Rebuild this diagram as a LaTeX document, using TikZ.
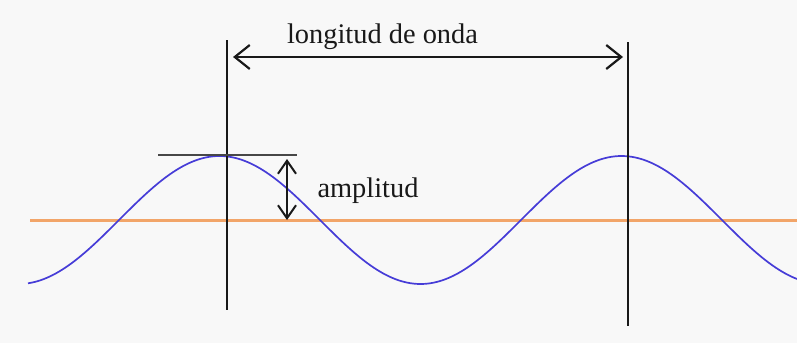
\documentclass[tikz,border=0pt]{standalone}
\usepackage{fontspec}
\setmainfont{Liberation Serif}
\usetikzlibrary{arrows.meta}
\definecolor{bgc}{RGB}{248,248,248}
\definecolor{wave}{RGB}{70,60,215}
\definecolor{axisc}{RGB}{242,165,105}
\definecolor{inkc}{RGB}{25,25,25}
\tikzset{
  guide/.style={draw=inkc, line width=2.2pt},
  dimarrow/.style={draw=inkc, line width=2.2pt, {Straight Barb[length=15pt,width=24pt]}-{Straight Barb[length=15pt,width=24pt]}},
  amparrow/.style={draw=inkc, line width=2pt, {Straight Barb[length=13pt,width=18pt]}-{Straight Barb[length=13pt,width=18pt]}},
  lbl/.style={inner sep=0pt, anchor=base, text=inkc, font=\fontsize{28.4}{30}\selectfont},
}
\begin{document}
\begin{tikzpicture}[x=1pt,y=-1pt]
\fill[bgc] (0,0) rectangle (797,343);
\useasboundingbox (0,0) rectangle (797,343);
% baseline (orange)
\coordinate (axL) at (30,220);
\coordinate (axR) at (797,220);
\draw[axisc, line width=3pt] (axL) -- (axR);
% wave
\draw[wave, line width=1.7pt, smooth] plot[domain=28:797, samples=160] (\x, {220-64*sin(0.89552*(\x-119))});
% vertical guides
\coordinate (v1t) at (227,40);
\coordinate (v1b) at (227,310);
\coordinate (v2t) at (628,42);
\coordinate (v2b) at (628,326);
\draw[guide] (v1t) -- (v1b);
\draw[guide] (v2t) -- (v2b);
% peak tangent
\coordinate (pkL) at (158,155);
\coordinate (pkR) at (297,155);
\draw[draw=inkc!80, line width=2.2pt] (pkL) -- (pkR);
% wavelength arrow
\coordinate (wlL) at (233,57);
\coordinate (wlR) at (623,57);
\draw[dimarrow] (wlL) -- (wlR);
% amplitude arrow
\coordinate (amT) at (287,159);
\coordinate (amB) at (287,220);
\draw[amparrow] (amT) -- (amB);
% labels
\node[lbl] (lw) at (382.5,43) {longitud de onda};
\node[lbl] (la) at (368,197) {amplitud};
\end{tikzpicture}
\end{document}
